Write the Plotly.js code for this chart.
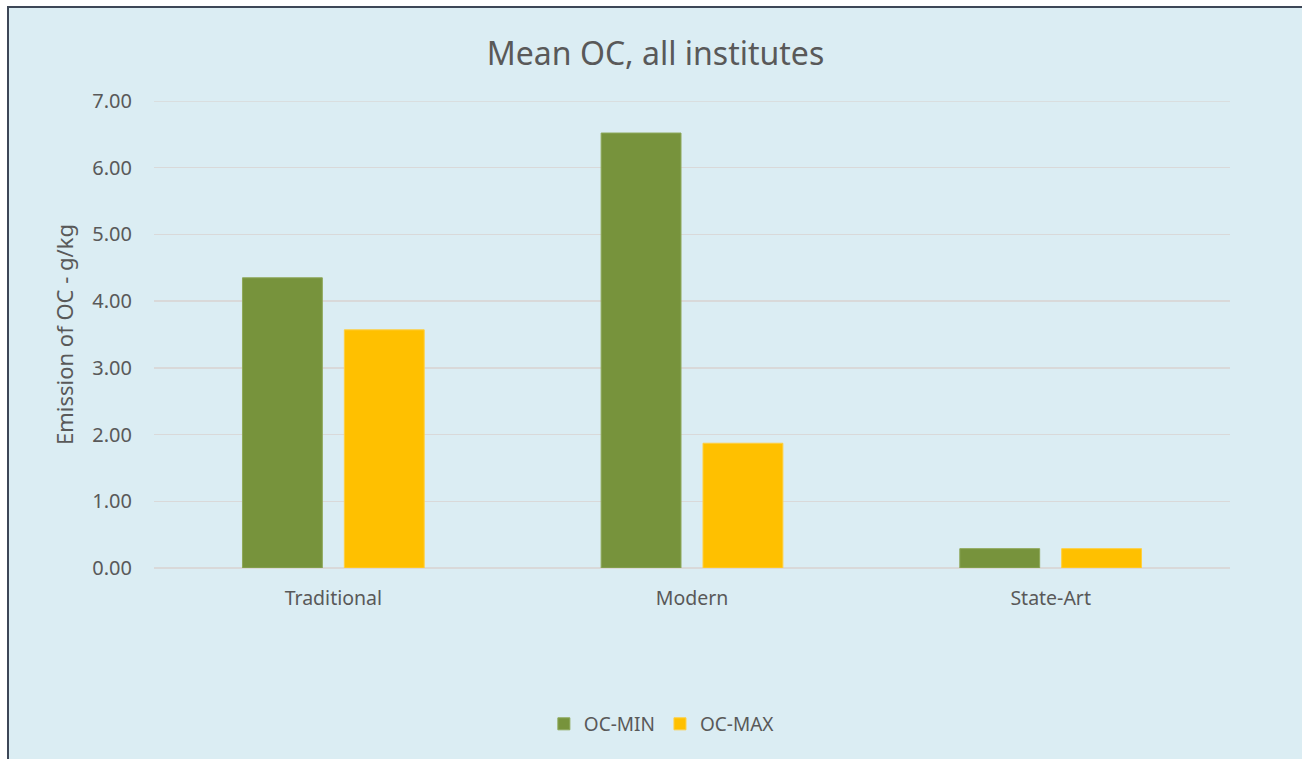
<!DOCTYPE html>
<html>
<head>
<meta charset="utf-8">
<script src="https://cdn.plot.ly/plotly-3.0.1.min.js"></script>
<style>
html,body{margin:0;padding:0;background:#fff;width:1302px;height:759px;overflow:hidden;}
#wrap{position:absolute;left:7px;top:6px;width:1295px;height:753px;border-left:2px solid #3d4757;border-top:2px solid #3d4757;box-sizing:border-box;background:#dbedf3;}
#chart{width:1293px;height:751px;}
</style>
</head>
<body>
<div id="wrap"><div id="chart"></div></div>
<script>
const categories = ["Traditional", "Modern", "State-Art"];
const ocMin = [4.35, 6.52, 0.29];
const ocMax = [3.57, 1.87, 0.29];
const seriesNames = ["OC-MIN", "OC-MAX"];
const yTickVals = [0, 1, 2, 3, 4, 5, 6, 7];
const yTickText = ["0.00", "1.00", "2.00", "3.00", "4.00", "5.00", "6.00", "7.00"];

const fontFam = "Noto Sans, Open Sans, sans-serif";
const txt = "#595959";

const traces = [
  {type: "bar", name: seriesNames[0], x: categories, y: ocMin,
   marker: {color: "#77933c", line: {color: "#8ea85a", width: 1}}},
  {type: "bar", name: seriesNames[1], x: categories, y: ocMax,
   marker: {color: "#ffc000", line: {color: "#ffcf40", width: 1}}}
];

const layout = {
  width: 1293, height: 751,
  paper_bgcolor: "#dbedf3", plot_bgcolor: "#dbedf3",
  margin: {l: 144.5, r: 71.5, t: 93, b: 191, pad: 0},
  barmode: "group", bargap: 0.432, bargroupgap: 0.216,
  font: {family: fontFam, color: txt, size: 19},
  title: {text: "Mean OC, all institutes", font: {size: 32, color: txt, family: fontFam},
          x: 0.5, xref: "container", xanchor: "center", y: 1 - 46/751, yref: "container", yanchor: "middle"},
  xaxis: {type: "category", showgrid: false, showline: false, zeroline: false, ticks: "",
          tickfont: {size: 19.5, color: txt}, automargin: false, ticklabelstandoff: 16},
  yaxis: {range: [0, 7], tickvals: yTickVals, ticktext: yTickText, showgrid: true,
          gridcolor: "#d9d9d9", gridwidth: 1.5, zeroline: true, zerolinecolor: "#d9d9d9", zerolinewidth: 1.5,
          showline: false, ticks: "", ticklen: 0, tickfont: {size: 20, color: txt}, automargin: false,
          ticklabelstandoff: 21,
          title: {text: "Emission of OC - g/kg", font: {size: 22, color: txt}, standoff: 12}},
  shapes: [{type: "line", xref: "paper", yref: "y", x0: 0, x1: 1, y0: yTickVals[yTickVals.length - 1], y1: yTickVals[yTickVals.length - 1],
            line: {color: "#d9d9d9", width: 1.5}, layer: "below"}],
  legend: {orientation: "h", x: 0.472, xanchor: "center", y: -0.334, yanchor: "middle",
           font: {size: 19, color: txt}, bgcolor: "rgba(0,0,0,0)", itemwidth: 30, traceorder: "normal"},
  showlegend: true
};

Plotly.newPlot("chart", traces, layout, {displayModeBar: false, staticPlot: true});
</script>
</body>
</html>
